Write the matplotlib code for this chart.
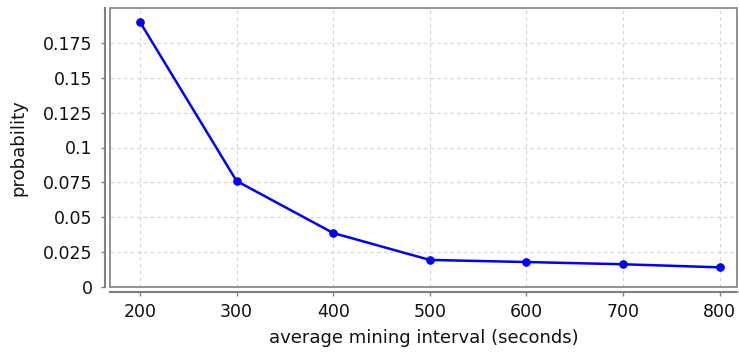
import matplotlib
matplotlib.use("Agg")
import matplotlib.pyplot as plt
from matplotlib.patches import Rectangle
from matplotlib.ticker import FuncFormatter

# mining interval vs. probability
intervals = [200, 300, 400, 500, 600, 700, 800]
probability = [0.190, 0.076, 0.0387, 0.0194, 0.0179, 0.0163, 0.0141]

x_ticks = [200, 300, 400, 500, 600, 700, 800]
y_ticks = [0, 0.025, 0.05, 0.075, 0.1, 0.125, 0.15, 0.175]

W, H = 739, 352
fig = plt.figure(figsize=(W / 100, H / 100), dpi=100)
ax = fig.add_axes([110 / W, (H - 287) / H, (737 - 110) / W, (287 - 8) / H])

ax.plot(intervals, probability, color="#0000ff", linewidth=1.8,
        marker="o", markersize=5.2, zorder=3)

ax.set_xlim(169, 818)
ax.set_ylim(0, 0.2)
ax.set_xticks(x_ticks)
ax.set_yticks(y_ticks)
ax.yaxis.set_major_formatter(FuncFormatter(lambda v, p: "%g" % round(v, 4)))

ax.grid(True, color="#d3d3d3", linestyle=(0, (3, 3)), linewidth=0.8)
ax.set_axisbelow(True)

# axis lines sit a few pixels outside the plot box
for side in ["top", "right"]:
    ax.spines[side].set_visible(False)
for side in ["left", "bottom"]:
    ax.spines[side].set_position(("outward", 3.6))
    ax.spines[side].set_color("#808080")
    ax.spines[side].set_linewidth(1.5)

ax.add_patch(Rectangle((0, 0), 1, 1, transform=ax.transAxes, fill=False,
                       edgecolor="#808080", linewidth=1.2, clip_on=False, zorder=4))

ax.tick_params(axis="both", direction="out", length=3, width=1, color="#808080",
               labelsize=12.5, labelcolor="#111111")
ax.tick_params(axis="y", pad=6)
ax.tick_params(axis="x", pad=5)

ax.set_xlabel("average mining interval (seconds)", fontsize=13, color="#111111", labelpad=6)
ax.set_ylabel("probability", fontsize=13, color="#111111", labelpad=11)

fig.savefig("out.png", dpi=100)
